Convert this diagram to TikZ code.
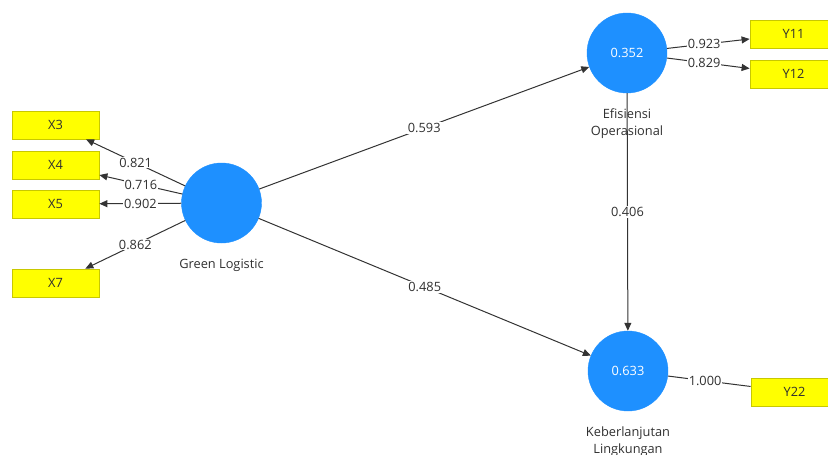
\documentclass[tikz,border=0pt]{standalone}
\usepackage{fontspec}
\setmainfont{Open Sans}
\usetikzlibrary{arrows.meta}
\definecolor{lv}{HTML}{1E90FF}
\definecolor{mv}{HTML}{FFFF00}
\definecolor{mvborder}{HTML}{C8C800}
\definecolor{edge}{HTML}{333333}
\definecolor{txt}{HTML}{303030}
\tikzset{
  fs/.style={font=\fontsize{12.8}{17}\selectfont},
  latent/.style={circle, fill=lv, draw=lv, minimum size=80pt, inner sep=0pt, text=white, fs},
  manifest/.style={rectangle, fill=mv, draw=mvborder, line width=0.8pt, minimum width=87pt, minimum height=28pt, inner sep=0pt, text=txt, fs},
  lbl/.style={text=txt, fs, align=center},
  wt/.style={fill=white, inner sep=1pt, text=txt, fs},
  conn/.style={draw=edge, line width=1pt, -{Triangle[length=8pt,width=7pt]}},
}
\begin{document}
\begin{tikzpicture}[x=1pt,y=-1pt]
\useasboundingbox (0,0) rectangle (828,455);
% latent variables
\node[latent] (gl) at (221.5,203) {};
\node[latent] (eo) at (627,53) {0.352};
\node[latent] (kl) at (628,371) {0.633};
% labels
\node[lbl] (gllbl) at (221.5,265) {Green Logistic};
\node[lbl] (eolbl) at (627,123.5) {Efisiensi\\Operasional};
\node[lbl] (kllbl) at (628,441.5) {Keberlanjutan\\Lingkungan};
% indicators
\node[manifest] (x3) at (55.5,125) {X3};
\node[manifest] (x4) at (55.5,165) {X4};
\node[manifest] (x5) at (55.5,204) {X5};
\node[manifest] (x7) at (55.5,283) {X7};
\node[manifest] (y11) at (793.5,34) {Y11};
\node[manifest] (y12) at (793.5,74) {Y12};
\node[manifest] (y22) at (794.5,392) {Y22};
% structural paths
\draw[conn] (gl) -- node[wt, pos=0.5] {0.593} (eo);
\draw[conn] (gl) -- node[wt, pos=0.5] {0.485} (kl);
\draw[conn] (eo) -- node[wt, pos=0.5] {0.406} (kl);
% outer loadings
\draw[conn] (gl) -- node[wt, pos=0.5] {0.821} (x3);
\draw[conn] (gl) -- node[wt, pos=0.5] {0.716} (x4);
\draw[conn] (gl) -- node[wt, pos=0.5] {0.902} (x5);
\draw[conn] (gl) -- node[wt, pos=0.5] {0.862} (x7);
\draw[conn] (eo) -- node[wt, pos=0.45] {0.923} (y11);
\draw[conn] (eo) -- node[wt, pos=0.45] {0.829} (y12);
\draw[draw=edge, line width=1pt] (kl) -- node[wt, pos=0.45] {1.000} (y22);
\end{tikzpicture}
\end{document}
